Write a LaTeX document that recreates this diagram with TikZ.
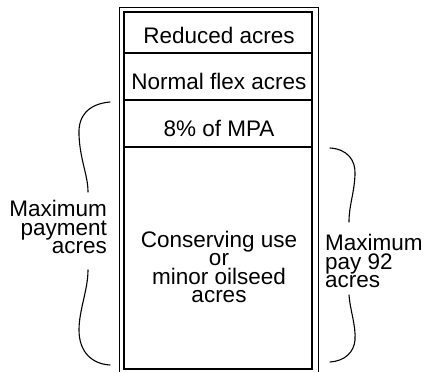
\documentclass[tikz,border=0pt]{standalone}
\usepackage{fontspec}
\setmainfont{Liberation Sans}
\begin{document}
\begin{tikzpicture}[x=1pt,y=-1pt,
  label/.style={font=\fontsize{22.5}{18.5}\selectfont, inner sep=0pt},
  frame/.style={draw=black, line width=0.9pt},
  cell/.style={draw=black, line width=1.6pt},
  divider/.style={draw=black, line width=1.8pt},
  curly/.style={draw=black, line width=1.1pt, line cap=round}]
\useasboundingbox (0,0) rectangle (426,372);
% double frame
\draw[frame] (119,373) -- (119,7) -- (318,7) -- (318,373);
\draw[cell] (124,12) rectangle (312,369);
% dividers between the bands
\coordinate (d1l) at (124,53);  \coordinate (d1r) at (312,53);
\coordinate (d2l) at (124,100); \coordinate (d2r) at (312,100);
\coordinate (d3l) at (124,147); \coordinate (d3r) at (312,147);
\draw[divider] (d1l) -- (d1r);
\draw[divider] (d2l) -- (d2r);
\draw[divider] (d3l) -- (d3r);
% band labels
\node[label] (reduced) at (219,35) {Reduced acres};
\node[label] (flex) at (219,81) {Normal flex acres};
\node[label] (mpa) at (219,128) {8\% of MPA};
\node[label, align=center] (cons) at (219,267) {Conserving use\\or\\minor oilseed\\acres};
% side labels
\node[label, align=right, anchor=east] (maxpay) at (107,227) {Maximum\\payment\\acres};
\node[label, align=left, anchor=west] (max92) at (325,261) {Maximum\\pay 92\\acres};
% left brace
\draw[curly] (110,102) .. controls (88,104) and (78,116) .. (79,135)
  .. controls (80,160) and (88,175) .. (88,192);
\draw[curly] (88,270) .. controls (88,290) and (79,310) .. (79,330)
  .. controls (79,352) and (92,364) .. (110,365);
% right brace
\draw[curly] (330,148) .. controls (347,149) and (356,160) .. (355,175)
  .. controls (354,195) and (349,205) .. (349,222);
\draw[curly] (349,295) .. controls (350,310) and (356,325) .. (355,340)
  .. controls (354,352) and (345,361) .. (330,362);
\end{tikzpicture}
\end{document}
